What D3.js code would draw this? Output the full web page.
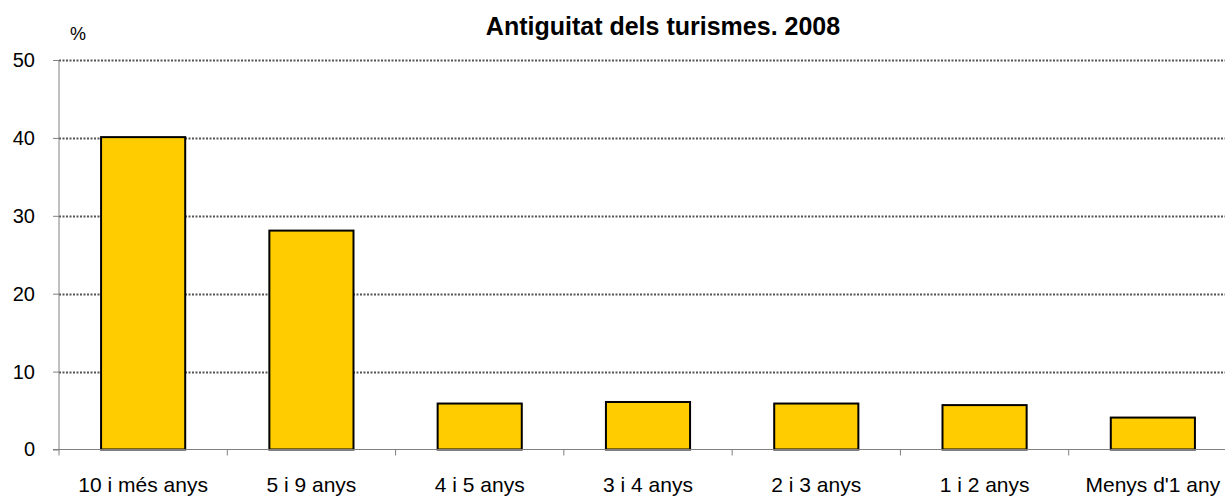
<!DOCTYPE html>
<html lang="en">
<head>
	<meta charset="UTF-8">
	<title>Antiguitat dels turismes. 2008</title>
	<style>
		body { margin: 0; background: #fff; overflow: hidden; }
		text { font-family: Arial, "Liberation Sans", sans-serif; }
	</style>
</head>
<body>
	<script src="https://d3js.org/d3.v7.min.js"></script>
	<script>
		var categories = ["10 i més anys", "5 i 9 anys", "4 i 5 anys", "3 i 4 anys", "2 i 3 anys", "1 i 2 anys", "Menys d'1 any"];
		var values = [40.1, 28.1, 5.9, 6.1, 5.9, 5.7, 4.1];
		var yTicks = [0, 10, 20, 30, 40, 50];

		var w = 1225, h = 497;
		var mLeft = 59, mRight = 1237, mTop = 60, mBottom = 449.5;

		var svg = d3.select("body").append("svg")
			.attr("width", w)
			.attr("height", h);

		var x = d3.scaleBand().domain(categories).range([mLeft, mRight]).paddingInner(0.5).paddingOuter(0.25);
		var y = d3.scaleLinear().domain([0, 50]).range([mBottom, mTop]);

		// gridlines (dotted)
		svg.selectAll("line.grid")
			.data(yTicks.filter(function(d) { return d > 0; }))
			.enter().append("line")
			.attr("class", "grid")
			.attr("x1", mLeft).attr("x2", mRight)
			.attr("y1", function(d) { return Math.round(y(d)) + 0.5; })
			.attr("y2", function(d) { return Math.round(y(d)) + 0.5; })
			.attr("stroke", "#555")
			.attr("stroke-width", 2)
			.attr("stroke-dasharray", "2,1.5");

		// y axis
		var yAxis = svg.append("g")
			.attr("transform", "translate(" + mLeft + ",0)")
			.call(d3.axisLeft(y).tickValues(yTicks).tickSize(6).tickPadding(18));
		yAxis.select(".domain").attr("stroke", "#808080").attr("d", "M0," + mTop + "V" + mBottom);
		yAxis.selectAll(".tick line").attr("stroke", "#808080");
		yAxis.selectAll("text").attr("font-size", "20px").attr("fill", "#000")
			.attr("font-family", "Arial, 'Liberation Sans', sans-serif");

		// bars
		svg.selectAll("rect.bar")
			.data(values)
			.enter().append("rect")
			.attr("class", "bar")
			.attr("x", function(d, i) { return x(categories[i]); })
			.attr("y", function(d) { return y(d); })
			.attr("width", x.bandwidth())
			.attr("height", function(d) { return y(0) - y(d); })
			.attr("fill", "#FFCC00")
			.attr("stroke", "#000")
			.attr("stroke-width", 2);

		// x axis baseline and ticks between categories
		var step = x.step();
		svg.append("line")
			.attr("x1", mLeft - 6).attr("x2", mRight)
			.attr("y1", mBottom).attr("y2", mBottom)
			.attr("stroke", "#808080");
		svg.selectAll("line.xtick")
			.data(d3.range(categories.length + 1))
			.enter().append("line")
			.attr("class", "xtick")
			.attr("x1", function(i) { return mLeft + i * step; })
			.attr("x2", function(i) { return mLeft + i * step; })
			.attr("y1", mBottom).attr("y2", mBottom + 6)
			.attr("stroke", "#808080");

		svg.selectAll("text.xlab")
			.data(categories)
			.enter().append("text")
			.attr("class", "xlab")
			.attr("x", function(d) { return x(d) + x.bandwidth() / 2; })
			.attr("y", 492)
			.attr("text-anchor", "middle")
			.attr("font-size", "21px")
			.text(function(d) { return d; });

		svg.append("text")
			.attr("x", 663).attr("y", 35)
			.attr("text-anchor", "middle")
			.attr("font-size", "25px")
			.attr("font-weight", "bold")
			.text("Antiguitat dels turismes. 2008");

		svg.append("text")
			.attr("x", 78).attr("y", 40)
			.attr("text-anchor", "middle")
			.attr("font-size", "18px")
			.text("%");
	</script>
</body>
</html>
